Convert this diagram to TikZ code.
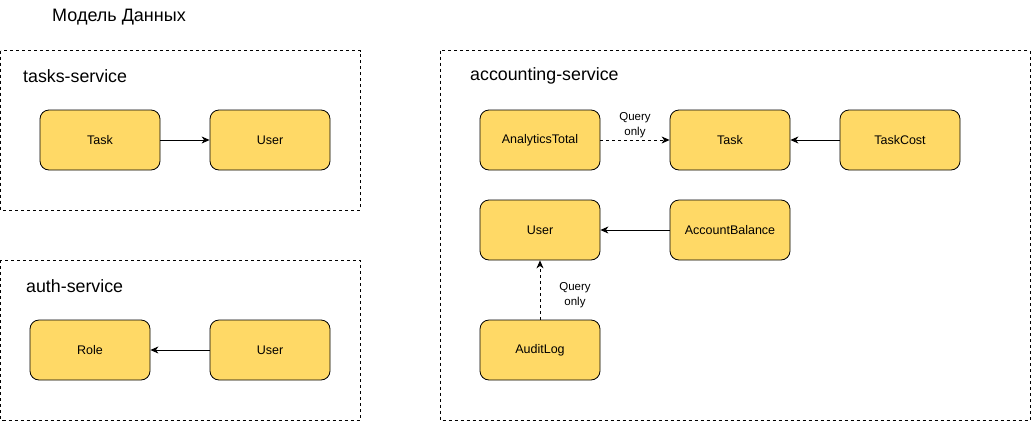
\documentclass[tikz,border=0pt]{standalone}
\usepackage{fontspec}
\setmainfont{Liberation Sans}
\usetikzlibrary{arrows.meta}
\definecolor{boxfill}{HTML}{FFD966}
\tikzset{
  entity/.style={draw=black, fill=boxfill, rounded corners=9pt, minimum width=120pt, minimum height=60pt, inner sep=0pt, font=\fontsize{12.5}{15}\selectfont, line width=0.8pt},
  service/.style={draw=black, dash pattern=on 3pt off 3pt, line width=0.7pt},
  svclabel/.style={anchor=west, font=\fontsize{17.8}{20}\selectfont, inner sep=0pt},
  conn/.style={-{Stealth[length=8pt,width=7pt,inset=2.5pt]}, line width=0.8pt},
  qlabel/.style={font=\fontsize{11.5}{14.5}\selectfont, align=center, inner sep=0pt}
}
\begin{document}
\begin{tikzpicture}[x=1pt,y=-1pt]
\useasboundingbox (0,0) rectangle (1031,421);
\node[anchor=west, inner sep=0pt, font=\fontsize{18}{20}\selectfont] (title) at (52,17) {Модель Данных};
% tasks-service
\draw[service] (0.5,50.5) rectangle (360,210);
\node[svclabel] (tslab) at (23,76) {tasks-service};
\node[entity] (ttask) at (100,140) {Task};
\node[entity] (tuser) at (270,140) {User};
\draw[conn] (ttask) -- (tuser);
% auth-service
\draw[service] (0.5,260) rectangle (360,420);
\node[svclabel] (aslab) at (26,286) {auth-service};
\node[entity] (arole) at (90,350) {Role};
\node[entity] (auser) at (270,350) {User};
\draw[conn] (auser) -- (arole);
% accounting-service
\draw[service] (440,50.5) rectangle (1030,420);
\node[svclabel] (aclab) at (470,76) {accounting-service};
\node[entity] (analytics) at (540,140) {AnalyticsTotal};
\node[entity] (ctask) at (730,140) {Task};
\node[entity] (taskcost) at (900,140) {TaskCost};
\node[entity] (cuser) at (540,230) {User};
\node[entity] (balance) at (730,230) {AccountBalance};
\node[entity] (audit) at (540,350) {AuditLog};
\draw[conn, dash pattern=on 3pt off 3pt] (analytics) -- (ctask);
\draw[conn] (taskcost) -- (ctask);
\draw[conn] (balance) -- (cuser);
\draw[conn, dash pattern=on 3pt off 3pt] (audit) -- (cuser);
\node[qlabel] (q1) at (635,125) {Query\\only};
\node[qlabel] (q2) at (575,295) {Query\\only};
\end{tikzpicture}
\end{document}
